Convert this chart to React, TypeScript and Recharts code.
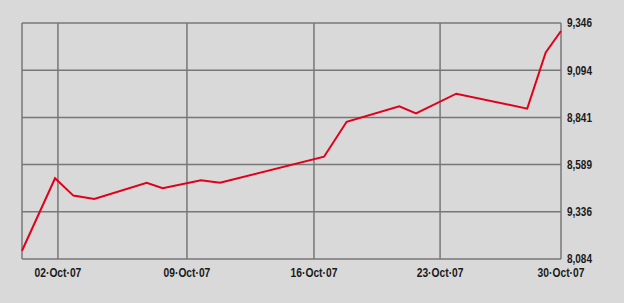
import React from 'react';
import { LineChart, Line, XAxis, YAxis, CartesianGrid } from 'recharts';

// x is measured in days from the left edge of the plot (30 Sep 07)
const days = [0, 1.84, 2.86, 4.02, 6.94, 7.83, 9.96, 11.02, 16.81, 18.07, 21.0, 21.93, 24.17, 28.12, 29.15, 30];
const closes = [8128, 8516, 8423, 8405, 8492, 8462, 8505, 8492, 8631, 8818, 8901, 8863, 8968, 8888, 9189, 9303];

const xTicks = [0, 2, 9.18, 16.25, 23.27, 30];
const xLabels = ['', '02·Oct·07', '09·Oct·07', '16·Oct·07', '23·Oct·07', '30·Oct·07'];

const yTicks = [8084, 8336.4, 8588.8, 8841.2, 9093.6, 9346];
const yLabels = ['8,084', '9,336', '8,589', '8,841', '9,094', '9,346'];

const data = days.map((d, i) => ({ day: d, close: closes[i] }));

const font = "'Liberation Sans', Arial, sans-serif";

// narrow bold labels, squeezed horizontally like Arial Narrow
const XTick = (props: any) => {
  const { x, y, payload } = props;
  const label = xLabels[xTicks.indexOf(payload.value)];
  if (!label) return null;
  return (
    <g transform={`translate(${x},${y + 1})`}>
      <text transform="scale(0.79,1)" textAnchor="middle" dy="0.71em" fontSize={13} fontWeight="bold" fill="#1a1a1a" fontFamily={font}>
        {label}
      </text>
    </g>
  );
};

const YTick = (props: any) => {
  const { x, y, payload } = props;
  const label = yLabels[yTicks.indexOf(payload.value)];
  return (
    <g transform={`translate(${x - 2},${y})`}>
      <text transform="scale(0.8,1)" textAnchor="start" dy="0.355em" fontSize={12.5} fontWeight="bold" fill="#1a1a1a" fontFamily={font}>
        {label}
      </text>
    </g>
  );
};

export default function App() {
  return (
    <div style={{ position: 'absolute', left: 0, top: 0, width: 624, height: 303, background: '#d9d9d9' }}>
      <LineChart width={624} height={303} data={data} margin={{ top: 23, right: 5, bottom: 4, left: 22 }}>
        <CartesianGrid stroke="#777777" strokeWidth={1.5} />
        <XAxis
          dataKey="day"
          type="number"
          domain={[0, 30]}
          ticks={xTicks}
          axisLine={false}
          tickLine={false}
          height={40}
          tick={<XTick />}
        />
        <YAxis
          orientation="right"
          type="number"
          domain={[8084, 9346]}
          ticks={yTicks}
          axisLine={false}
          tickLine={false}
          width={58}
          tick={<YTick />}
        />
        <Line
          type="linear"
          dataKey="close"
          stroke="#e0001b"
          strokeWidth={2}
          dot={false}
          isAnimationActive={false}
        />
      </LineChart>
    </div>
  );
}
